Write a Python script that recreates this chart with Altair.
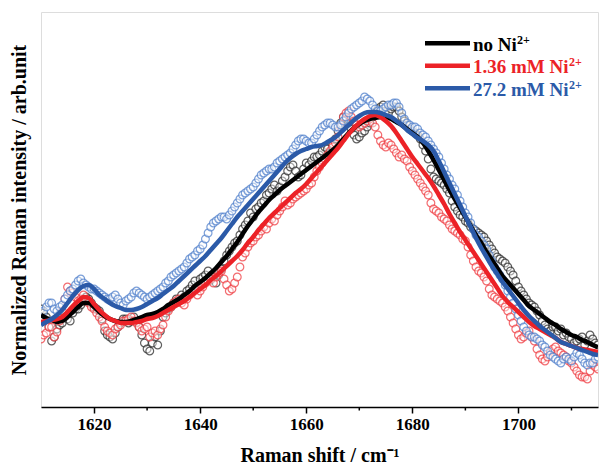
import altair as alt
import pandas as pd

# Raman shift grids (cm-1): whole and half wavenumbers
shift = list(range(1610, 1716))
shift_half = [k + 0.5 for k in range(1610, 1715)]

# measured points (arb. units) at whole wavenumbers
no_ni_pts = [98, 90, 66, 78, 84, 88, 94, 98, 106, 108, 100, 96, 76, 70, 74, 84, 88, 86, 85, 72,
             58, 64, 62, 90, 98, 104, 106, 110, 118, 126, 128, 132, 127, 124, 138, 152, 160, 166, 178, 186,
             190, 200, 206, 214, 222, 220, 230, 240, 236, 232, 244, 246, 250, 256, 258, 262, 276, 290, 284, 272,
             270, 276, 284, 294, 300, 296, 298, 300, 290, 282, 276, 272, 262, 248, 230, 226, 222, 214, 200, 192,
             186, 180, 176, 172, 166, 158, 150, 146, 140, 132, 120, 112, 104, 100, 92, 82, 76, 80, 78, 74,
             68, 66, 70, 66, 68, 62]
ni136_pts = [68, 74, 80, 75, 96, 120, 114, 106, 112, 104, 98, 90, 80, 74, 78, 82, 86, 90, 84, 76,
             80, 74, 72, 82, 96, 104, 108, 102, 112, 118, 116, 124, 128, 130, 136, 122, 118, 130, 150, 160,
             166, 172, 180, 184, 186, 196, 206, 204, 210, 214, 218, 224, 236, 244, 252, 260, 270, 290, 296, 286,
             280, 284, 288, 280, 266, 260, 262, 254, 252, 246, 236, 228, 220, 212, 198, 194, 188, 182, 176, 172,
             166, 152, 140, 134, 126, 112, 108, 104, 96, 84, 72, 70, 76, 66, 52, 46, 56, 60, 54, 50,
             44, 36, 30, 28, 42, 38]
ni272_pts = [88, 100, 104, 96, 102, 112, 118, 126, 124, 120, 118, 114, 110, 108, 112, 104, 106, 110, 116, 112,
             108, 112, 116, 120, 126, 132, 136, 140, 148, 152, 158, 168, 180, 186, 190, 188, 196, 204, 212, 216,
             220, 228, 234, 238, 240, 246, 250, 254, 262, 268, 266, 264, 272, 280, 284, 282, 280, 286, 294, 300,
             304, 310, 306, 298, 296, 300, 302, 304, 294, 284, 280, 278, 272, 266, 258, 250, 238, 228, 218, 206,
             194, 184, 172, 166, 158, 146, 136, 128, 116, 104, 92, 80, 72, 70, 66, 60, 52, 48, 44, 50,
             46, 54, 48, 42, 44, 50]

# measured points (arb. units) at half wavenumbers
no_ni_half = [94, 80, 70, 82, 90, 86, 98, 102, 110, 104, 98, 88, 72, 68, 80, 88, 84, 90, 80, 64,
              56, 70, 76, 94, 100, 108, 112, 116, 122, 120, 130, 136, 130, 132, 146, 156, 164, 172, 182, 194,
              198, 204, 212, 218, 216, 226, 236, 242, 230, 238, 242, 250, 252, 260, 254, 268, 284, 288, 278, 268,
              274, 280, 290, 298, 302, 294, 300, 296, 286, 278, 274, 268, 256, 238, 228, 224, 218, 206, 196, 190,
              184, 178, 174, 170, 162, 154, 148, 144, 136, 126, 116, 108, 102, 96, 86, 78, 80, 76, 72, 70,
              64, 68, 62, 72, 64]
ni136_half = [72, 80, 70, 86, 108, 116, 110, 108, 106, 100, 94, 86, 76, 72, 80, 86, 88, 86, 80, 78,
              70, 76, 78, 90, 100, 106, 104, 108, 114, 112, 120, 126, 124, 134, 128, 116, 124, 140, 154, 164,
              170, 176, 178, 188, 192, 200, 202, 208, 212, 216, 222, 230, 240, 248, 256, 264, 280, 294, 290, 282,
              282, 286, 284, 272, 262, 264, 258, 250, 248, 240, 232, 224, 216, 204, 196, 190, 186, 178, 174, 168,
              160, 146, 136, 130, 118, 110, 106, 100, 90, 78, 68, 74, 70, 58, 48, 50, 58, 56, 52, 46,
              40, 32, 30, 36, 40]
ni272_half = [96, 104, 98, 100, 108, 116, 122, 128, 122, 118, 116, 112, 108, 110, 108, 102, 108, 114, 114, 110,
              110, 114, 118, 124, 130, 134, 138, 144, 150, 156, 162, 174, 184, 188, 190, 192, 200, 208, 214, 218,
              224, 232, 236, 238, 244, 248, 252, 258, 266, 268, 264, 268, 276, 282, 284, 280, 282, 290, 298, 302,
              306, 308, 302, 296, 298, 302, 304, 300, 288, 282, 280, 274, 270, 262, 254, 244, 232, 222, 212, 200,
              190, 178, 170, 162, 152, 140, 132, 122, 110, 98, 86, 76, 70, 68, 62, 56, 50, 46, 48, 48,
              50, 52, 44, 44, 48]

# fitted curves (arb. units) at whole wavenumbers
no_ni_fit = [92, 89, 87, 85, 86, 90, 95, 100, 104, 104, 100, 95, 91, 88, 86, 85, 85, 86, 88, 90,
             92, 93, 95, 98, 102, 105, 108, 112, 116, 121, 125, 129, 134, 139, 145, 151, 158, 165, 173, 181,
             188, 195, 201, 207, 212, 217, 221, 225, 229, 233, 237, 241, 245, 249, 253, 257, 262, 268, 274, 279,
             283, 286, 288, 289, 290, 290, 288, 285, 282, 278, 274, 270, 264, 256, 247, 237, 227, 217, 208, 199,
             190, 181, 172, 164, 155, 147, 139, 131, 125, 119, 113, 107, 101, 97, 93, 89, 85, 82, 78, 75,
             72, 70, 67, 65, 62, 60]
ni136_fit = [85, 86, 87, 88, 90, 95, 101, 106, 110, 109, 103, 97, 92, 88, 86, 84, 84, 84, 85, 86,
             88, 89, 91, 94, 97, 100, 103, 106, 110, 114, 118, 122, 127, 131, 136, 141, 146, 151, 157, 164,
             170, 177, 183, 189, 194, 199, 204, 209, 214, 218, 223, 229, 235, 241, 247, 253, 259, 266, 273, 279,
             284, 288, 291, 292, 290, 286, 281, 274, 266, 258, 250, 243, 236, 229, 221, 212, 203, 193, 184, 175,
             167, 159, 151, 143, 135, 127, 119, 111, 105, 100, 95, 90, 85, 81, 78, 75, 72, 69, 65, 63,
             61, 59, 58, 57, 56, 55]
ni272_fit = [82, 85, 88, 92, 97, 104, 111, 117, 121, 122, 118, 112, 108, 104, 101, 99, 97, 97, 98, 100,
             103, 106, 109, 113, 117, 121, 126, 131, 136, 141, 146, 151, 157, 163, 169, 176, 183, 190, 196, 202,
             208, 214, 220, 226, 232, 238, 244, 249, 253, 256, 258, 260, 261, 262, 265, 268, 272, 277, 282, 287,
             291, 294, 295, 295, 294, 292, 290, 286, 282, 277, 273, 269, 266, 262, 256, 246, 235, 224, 213, 202,
             191, 180, 169, 159, 150, 141, 133, 125, 118, 111, 104, 97, 91, 86, 81, 77, 73, 69, 65, 63,
             61, 59, 57, 55, 53, 52]

series_names = ["no Ni", "1.36 mM Ni", "27.2 mM Ni"]
series_sup = ["2+", "2+", "2+"]
line_colors = ["#000000", "#ec2227", "#2b5aa8"]
point_colors = ["#2a2a2a", "#ef3b40", "#4f7fcb"]
major_ticks = [1620, 1640, 1660, 1680, 1700]
minor_ticks = [1630, 1650, 1670, 1690, 1710]

FONT = "Liberation Serif"
W, H = 557, 395

pts = [no_ni_pts, ni136_pts, ni272_pts]
pts_half = [no_ni_half, ni136_half, ni272_half]
fits = [no_ni_fit, ni136_fit, ni272_fit]

xscale = alt.Scale(domain=[1610, 1715], nice=False, zero=False)
yscale = alt.Scale(domain=[0, 395], nice=False, zero=False)

xaxis = alt.Axis(values=major_ticks, format="d", grid=False, tickSize=6, tickWidth=1.5,
                 tickColor="black", domainColor="black", domainWidth=1.5,
                 labelFont=FONT, labelFontSize=17, labelFontWeight="bold", labelColor="black",
                 labelPadding=3, title="Raman shift / cm\u207b\u00b9", titleFont=FONT,
                 titleFontSize=20, titleFontWeight="bold", titleColor="black",
                 titleBaseline="alphabetic", titleY=54)
yaxis = alt.Axis(labels=False, ticks=False, domain=False, grid=False,
                 title="Normalized Raman intensity / arb.unit", titleFont=FONT, titleFontSize=20,
                 titleFontWeight="bold", titleColor="black", titleAngle=270,
                 titleBaseline="alphabetic", titleAlign="center", titleX=-16, titleY=197.5)

layers = []
for i in range(3):
    df = pd.DataFrame({"shift": shift + shift_half, "intensity": pts[i] + pts_half[i]})
    df = df.sort_values("shift")
    layers.append(
        alt.Chart(df).mark_point(shape="circle", filled=False, fill="white", fillOpacity=0.45,
                                 stroke=point_colors[i], strokeOpacity=0.75, strokeWidth=1.2,
                                 size=60, clip=True)
        .encode(x=alt.X("shift:Q", scale=xscale, axis=xaxis),
                y=alt.Y("intensity:Q", scale=yscale, axis=yaxis))
    )
for i in range(3):
    df = pd.DataFrame({"shift": shift, "fit": fits[i]})
    layers.append(
        alt.Chart(df).mark_line(color=line_colors[i], strokeWidth=4.5, interpolate="monotone", clip=True)
        .encode(x=alt.X("shift:Q", scale=xscale, axis=xaxis),
                y=alt.Y("fit:Q", scale=yscale, axis=yaxis))
    )

# minor ticks on the x axis
mt = pd.DataFrame({"shift": minor_ticks})
layers.append(
    alt.Chart(mt).mark_rule(color="black", strokeWidth=1.5)
    .encode(x=alt.X("shift:Q", scale=xscale, axis=xaxis), y=alt.value(H), y2=alt.value(H + 3.5))
)

# legend
line_y = [31.3, 53.8, 76.3]
base_y = [38.5, 61.0, 83.5]
sup_x = [476, 528, 528]
for i in range(3):
    ld = pd.DataFrame({"label": [series_names[i]], "sup": [series_sup[i]]})
    base = alt.Chart(ld)
    layers.append(base.mark_rule(color=line_colors[i], strokeWidth=4.5)
                  .encode(x=alt.value(384), x2=alt.value(429), y=alt.value(line_y[i])))
    layers.append(base.mark_text(font=FONT, fontSize=19, fontWeight="bold", color=line_colors[i],
                                 align="left", baseline="alphabetic")
                  .encode(x=alt.value(432), y=alt.value(base_y[i]), text="label:N"))
    layers.append(base.mark_text(font=FONT, fontSize=12, fontWeight="bold", color=line_colors[i],
                                 align="left", baseline="alphabetic")
                  .encode(x=alt.value(sup_x[i]), y=alt.value(base_y[i] - 7), text="sup:N"))

chart = alt.layer(*layers).properties(
    width=W, height=H,
    autosize=alt.AutoSizeParams(type="none"),
    padding={"left": 33, "top": 4, "right": 2, "bottom": 57},
).configure_view(stroke="black", strokeWidth=1.5).configure(font=FONT, background="white")

chart.save("out.html", embed_options={"renderer": "svg", "actions": False})
